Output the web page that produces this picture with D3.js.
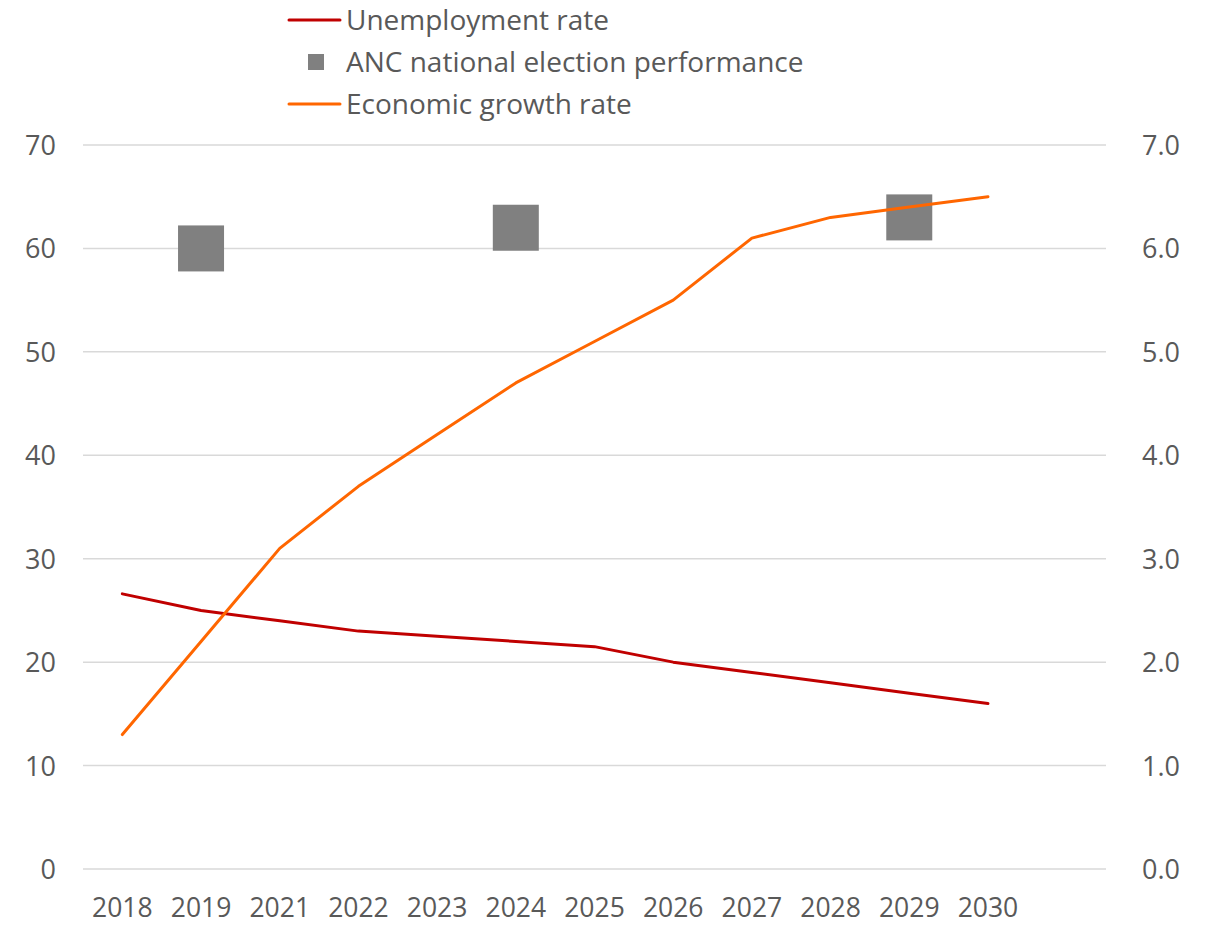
<!DOCTYPE html>
<html><head><meta charset="utf-8">
<script src="https://cdn.jsdelivr.net/npm/d3@7"></script>
<style>
body{margin:0;background:#fff;}
text{font-family:"Open Sans",sans-serif;fill:#595959;}
</style></head>
<body><svg id="c" width="1212" height="925"></svg>
<script>
const categories = ["2018","2019","2021","2022","2023","2024","2025","2026","2027","2028","2029","2030",""];
const unemployment = [26.6,25.0,24.0,23.0,22.5,22.0,21.5,20.0,19.0,18.0,17.0,16.0];
const growth = [1.3,2.2,3.1,3.7,4.2,4.7,5.1,5.5,6.1,6.3,6.4,6.5];
const ancYears = ["2019","2024","2029"];
const ancValues = [60,62,63];
const leftTicks = [0,10,20,30,40,50,60,70];
const rightTicks = [0,1,2,3,4,5,6,7];
const legendLabels = ["Unemployment rate","ANC national election performance","Economic growth rate"];

const svg = d3.select("#c");
const x = d3.scaleBand().domain(categories).range([83,1106]).padding(0);
const yL = d3.scaleLinear().domain([0,70]).range([869,145]);
const yR = d3.scaleLinear().domain([0,7]).range([869,145]);

// gridlines
svg.append("g").selectAll("line").data(leftTicks).join("line")
  .attr("x1",83).attr("x2",1106).attr("y1",d=>yL(d)).attr("y2",d=>yL(d))
  .attr("stroke","#d9d9d9").attr("stroke-width",1.5);

function styleAxis(g, fs){
  g.select(".domain").remove();
  g.attr("font-family","Open Sans, sans-serif").attr("font-size",fs);
  g.selectAll("text").style("font-size",fs+"px").attr("fill","#595959").attr("dy","0.35em");
}

// left axis
const gl = svg.append("g").attr("transform","translate(56,0)")
  .call(d3.axisLeft(yL).tickValues(leftTicks).tickSize(0).tickPadding(0).tickFormat(d3.format("d")));
styleAxis(gl, 27);

// right axis
const gr = svg.append("g").attr("transform","translate(1142,0)")
  .call(d3.axisRight(yR).tickValues(rightTicks).tickSize(0).tickPadding(0).tickFormat(d3.format(".1f")));
styleAxis(gr, 27);

// bottom axis
const gb = svg.append("g").attr("transform","translate(0,908)")
  .call(d3.axisBottom(x).tickSize(0).tickPadding(0));
styleAxis(gb, 26.5);

const cx = d => x(d) + x.bandwidth()/2;

// ANC squares
const sq = 46;
svg.append("g").selectAll("rect").data(ancYears.map((y,i)=>({y,v:ancValues[i]}))).join("rect")
  .attr("x",d=>cx(d.y)-sq/2).attr("y",d=>yL(d.v)-sq/2).attr("width",sq).attr("height",sq)
  .attr("fill","#808080");

// lines
const lineL = d3.line().x((d,i)=>cx(categories[i])).y(d=>yL(d));
const lineR = d3.line().x((d,i)=>cx(categories[i])).y(d=>yR(d));
svg.append("path").attr("d",lineL(unemployment)).attr("fill","none").attr("stroke","#c00000").attr("stroke-width",3).attr("stroke-linejoin","round").attr("stroke-linecap","round");
svg.append("path").attr("d",lineR(growth)).attr("fill","none").attr("stroke","#ff6600").attr("stroke-width",3).attr("stroke-linejoin","round").attr("stroke-linecap","round");

// legend
const lg = svg.append("g");
const ly = [20,62,104];
lg.append("line").attr("x1",289).attr("x2",340).attr("y1",ly[0]).attr("y2",ly[0]).attr("stroke","#c00000").attr("stroke-width",3).attr("stroke-linecap","round");
lg.append("rect").attr("x",308).attr("y",ly[1]-8).attr("width",16).attr("height",16).attr("fill","#808080");
lg.append("line").attr("x1",289).attr("x2",340).attr("y1",ly[2]).attr("y2",ly[2]).attr("stroke","#ff6600").attr("stroke-width",3).attr("stroke-linecap","round");
lg.selectAll("text").data(legendLabels).join("text")
  .attr("x",346).attr("y",(d,i)=>ly[i]).attr("dy","0.35em")
  .style("font-size","28px").text(d=>d);
</script></body></html>
